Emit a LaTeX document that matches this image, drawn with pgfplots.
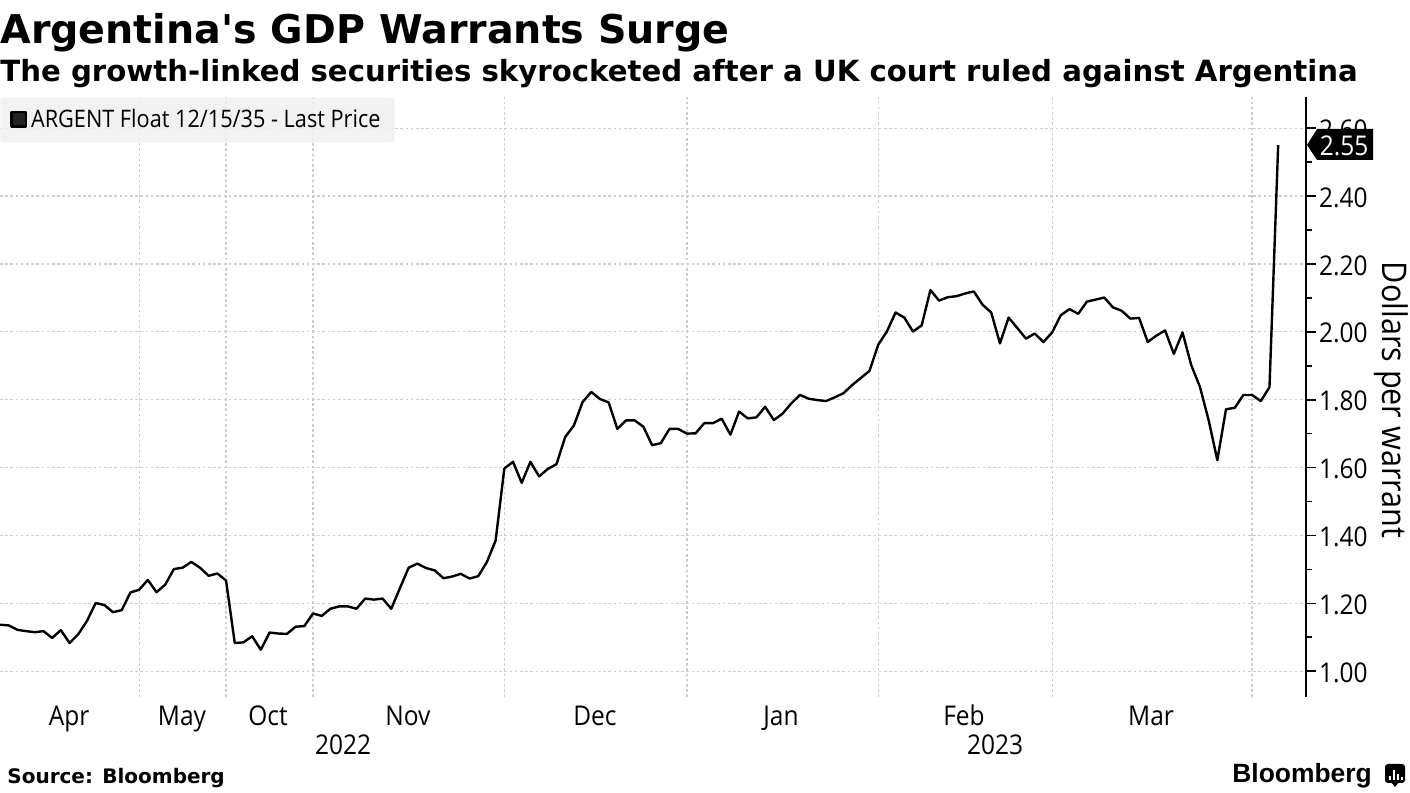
\documentclass[border=0pt]{standalone}
\usepackage{pgfplots}
\pgfplotsset{compat=1.18}
\usepackage{fontspec}
\setmainfont{DejaVu Sans}
\newfontfamily\ttl{DejaVu Sans}
\newfontfamily\lab[FakeStretch=0.9]{Open Sans}
\newfontfamily\logo{Liberation Sans}
\definecolor{gridc}{HTML}{CECECE}
\pgfplotstableread{
i v
0 1.137
1 1.135
2 1.122
3 1.118
4 1.115
5 1.118
6 1.098
7 1.121
8 1.083
9 1.109
10 1.148
11 1.201
12 1.195
13 1.174
14 1.180
15 1.232
16 1.240
17 1.269
18 1.233
19 1.255
20 1.301
21 1.305
22 1.322
23 1.305
24 1.281
25 1.288
26 1.267
27 1.083
28 1.085
29 1.103
30 1.063
31 1.114
32 1.111
33 1.110
34 1.131
35 1.133
36 1.170
37 1.163
38 1.184
39 1.191
40 1.191
41 1.184
42 1.214
43 1.211
44 1.214
45 1.184
46 1.245
47 1.305
48 1.317
49 1.304
50 1.297
51 1.274
52 1.279
53 1.287
54 1.273
55 1.280
56 1.322
57 1.385
58 1.597
59 1.617
60 1.555
61 1.617
62 1.574
63 1.596
64 1.610
65 1.690
66 1.724
67 1.793
68 1.823
69 1.802
70 1.792
71 1.714
72 1.739
73 1.739
74 1.720
75 1.666
76 1.672
77 1.714
78 1.714
79 1.700
80 1.701
81 1.731
82 1.731
83 1.744
84 1.697
85 1.765
86 1.745
87 1.748
88 1.779
89 1.740
90 1.759
91 1.789
92 1.814
93 1.803
94 1.799
95 1.796
96 1.807
97 1.819
98 1.843
99 1.864
100 1.885
101 1.962
102 2.001
103 2.057
104 2.042
105 2.001
106 2.019
107 2.123
108 2.092
109 2.102
110 2.105
111 2.113
112 2.119
113 2.080
114 2.057
115 1.966
116 2.042
117 2.011
118 1.980
119 1.995
120 1.970
121 1.998
122 2.049
123 2.067
124 2.053
125 2.089
126 2.095
127 2.101
128 2.072
129 2.062
130 2.039
131 2.041
132 1.970
133 1.989
134 2.004
135 1.935
136 1.998
137 1.902
138 1.838
139 1.740
140 1.622
141 1.772
142 1.776
143 1.814
144 1.814
145 1.796
146 1.837
147 2.550
}\pricetable
\begin{document}
\begin{tikzpicture}[x=0.5pt,y=0.5pt]
\path[use as bounding box] (0,0) rectangle (1410,793);
% grid, data and legend
\begin{axis}[
  at={(0pt,48pt)}, anchor=south west,
  scale only axis, width=653pt, height=300pt,
  xmin=0, xmax=150.2, ymin=0.924, ymax=2.692,
  axis line style={draw=none},
  major tick length=0pt, minor tick length=0pt,
  xtick={16,26,36,58,79,101,121,144}, xticklabels={},
  ytick={1,1.2,1.4,1.6,1.8,2,2.2,2.4,2.6}, yticklabels={},
  grid=major,
  major grid style={gridc, dash pattern=on 1.3pt off 1.3pt, line width=0.6pt},
  legend style={at={(0,1)}, anchor=north west, draw=none, fill=black!6, fill opacity=0.85, text opacity=1, rounded corners=2pt, font=\lab\fontsize{12.05}{14}\selectfont, inner xsep=5pt, inner ysep=4pt, legend cell align=left},
  legend image code/.code={\fill[black, sharp corners] (0.12cm,-0.11cm) rectangle (0.37cm,0.14cm);},
  clip=false,
]
\addplot[black, line width=1.2pt, line join=round] table[x=i,y=v] {\pricetable};
\addlegendentry{ARGENT Float 12/15/35 - Last Price}
\end{axis}
% right-hand value axis
\begin{axis}[
  at={(0pt,48pt)}, anchor=south west,
  scale only axis, width=653pt, height=300pt,
  xmin=0, xmax=150.2, ymin=0.924, ymax=2.692,
  axis y line=right, axis x line=none,
  axis line style={-, line width=0.9pt, black},
  ytick={1,1.2,1.4,1.6,1.8,2,2.2,2.4,2.6},
  minor ytick={1.1,1.3,1.5,1.7,1.9,2.1,2.3,2.5},
  yticklabel style={/pgf/number format/fixed, /pgf/number format/fixed zerofill, /pgf/number format/precision=2, /pgf/number format/assume math mode=true, font=\lab\fontsize{13.6}{15}\selectfont, xshift=-2pt, yshift=-0.7pt},
  y tick style={black, line width=0.8pt},
  major tick length=5pt, minor tick length=3pt,
  tick align=outside,
  ylabel={Dollars per warrant},
  ylabel style={at={(axis description cs:1.065,0.495)}, anchor=center, rotate=180, font=\lab\fontsize{17}{19}\selectfont},
]
\end{axis}
% months
\foreach \t/\xx in {Apr/69, May/182, Oct/268, Nov/408, Dec/595, Jan/781, Feb/964, Mar/1151}
  \node[anchor=base, inner sep=0pt, font=\lab\fontsize{13.6}{15}\selectfont] at (\xx,67) {\t};
\node[anchor=base, inner sep=0pt, font=\lab\fontsize{13.6}{15}\selectfont] at (343,38) {2022};
\node[anchor=base, inner sep=0pt, font=\lab\fontsize{13.6}{15}\selectfont] at (995,38) {2023};
% last value tag
\fill[black] (1307,648) -- (1317,664) -- (1373,664) -- (1373,633) -- (1317,633) -- cycle;
\node[white, font=\lab\fontsize{13.6}{15}\selectfont] at (1344,647) {2.55};
% titles
\node[anchor=base west, inner sep=0pt, font=\ttl\bfseries\fontsize{19.8}{24}\selectfont] at (0,749) {Argentina's GDP Warrants Surge};
\node[anchor=base west, inner sep=0pt, font=\ttl\bfseries\fontsize{14.6}{18}\selectfont] at (0,711) {The growth-linked securities skyrocketed after a UK court ruled against Argentina};
\node[anchor=base west, inner sep=0pt, font=\ttl\bfseries\fontsize{10}{12}\selectfont] at (7,9) {Source: Bloomberg};
\node[anchor=base west, inner sep=0pt, font=\logo\bfseries\fontsize{13.2}{16}\selectfont] at (1232,10) {Bloomberg};
\fill[black, rounded corners=1.5pt] (1385,10) rectangle (1405,29);
\fill[black] (1391,11) -- (1399,11) -- (1395,6) -- cycle;
\foreach \a/\b in {1388.5/17,1392.5/23,1396.5/19,1400.5/16} \fill[white] (\a,13) rectangle (\a+2,\b);
\end{tikzpicture}
\end{document}
